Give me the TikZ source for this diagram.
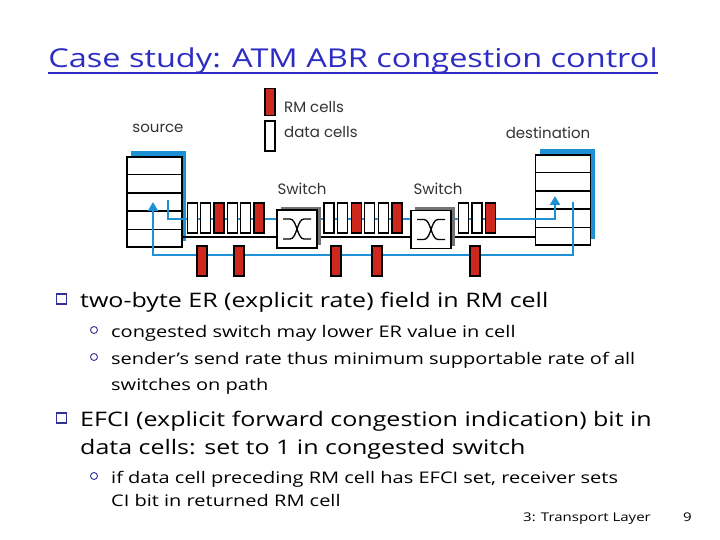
\documentclass[tikz,border=0pt]{standalone}
\usepackage{fontspec}
\setmainfont{Open Sans}[FakeStretch=1.25]
\newfontfamily\figfont{Poppins}
\usepackage{xcolor}
\usepackage{tikz}
\usetikzlibrary{
    arrows.meta,
    positioning,
    calc,
    shadows
}
\definecolor{abrblue}{RGB}{30,144,214}
\definecolor{abrred}{RGB}{205,40,30}
\definecolor{titleblue}{RGB}{45,45,195}
\definecolor{bulletblue}{RGB}{50,50,150}
\tikzset{
    cell/.style={
        draw,
        line width=1.3pt,
        minimum width=10pt,
        minimum height=30pt,
        inner sep=0pt
    }
}
\tikzset{
    rmcell/.style={
        cell,
        fill=abrred
    }
}
\tikzset{
    datacell/.style={
        cell,
        fill=white
    }
}
\tikzset{
    switchbox/.style={
        draw,
        line width=1.5pt,
        fill=white,
        minimum width=40pt,
        minimum height=38pt,
        inner sep=0pt,
        general shadow={fill=black!55, shadow xshift=4pt, shadow yshift=3pt}
    }
}
\tikzset{
    hoststack/.style={
        draw,
        line width=1.3pt,
        fill=white,
        minimum width=55pt,
        minimum height=90pt,
        inner sep=0pt,
        general shadow={fill=abrblue, shadow xshift=4pt, shadow yshift=6pt}
    }
}
\tikzset{
    flow/.style={
        draw=abrblue,
        line width=2.5pt,
        -{Triangle[width=10pt,length=9pt]}
    }
}
\tikzset{
    wire/.style={
        draw=black,
        line width=1.3pt
    }
}
\tikzset{
    figlabel/.style={
        font=\figfont\fontsize{15}{18}\selectfont,
        text=black!80,
        inner sep=0pt
    }
}
\tikzset{
    point/.style={
        anchor=base west,
        align=left,
        inner sep=0pt,
        font=\fontsize{20}{28}\selectfont
    }
}
\tikzset{
    subpoint/.style={
        anchor=base west,
        align=left,
        inner sep=0pt,
        font=\fontsize{16}{26}\selectfont
    }
}
\tikzset{
    sqbullet/.style={
        draw=bulletblue,
        line width=1.5pt,
        minimum size=10pt,
        inner sep=0pt
    }
}
\tikzset{
    rdbullet/.style={
        circle,
        draw=bulletblue,
        line width=0.9pt,
        minimum size=7pt,
        inner sep=0pt
    }
}

\begin{document}
\begin{tikzpicture}[
    x=1pt, y=-1pt,
    >=Latex
]
\useasboundingbox (0,0) rectangle (720,540);

% ------------------------------------------------------------
% Title
% ------------------------------------------------------------

\node[font=\fontsize{26}{31}\selectfont, text=titleblue, inner sep=0pt, anchor=base]
    (title) at (353,68) {Case study: ATM ABR congestion control};
\draw[titleblue, line width=1.3pt] ($(title.base west)+(0,5)$) -- ($(title.base east)+(0,5)$);

% ------------------------------------------------------------
% Hosts
% ------------------------------------------------------------

\node[hoststack] (src) at (154.5,202) {};
\node[hoststack] (dst) at (563,200) {};
\foreach \h in {src,dst} {
    \foreach \i in {1,...,4}
        \draw[line width=1.3pt] ($(\h.north west)!\i/5!(\h.south west)$) -- ($(\h.north east)!\i/5!(\h.south east)$);
}
\node[figlabel] (srclabel) at (158,128) {source};
\node[figlabel] (dstlabel) at (548,133) {destination};

% legend
\node[rmcell, minimum height=27pt] (legrm) at (270,102) {};
\node[datacell] (legdata) at (270,136) {};
\node[figlabel, anchor=west] (legrmtext) at (284,107) {RM cells};
\node[figlabel, anchor=west] (legdatatext) at (284,132) {data cells};

% ------------------------------------------------------------
% Forward path and return path
% ------------------------------------------------------------

\coordinate (srcout) at (168,200);
\coordinate (dstin) at (555,196);
\coordinate (dstout) at (573,202);
\coordinate (srcin) at (153,202);

\draw[wire] (src.east |- 0,237) -- (dst.west |- 0,237);
\draw[flow] (srcout) |- (dstin |- 0,219) -- (dstin);
\draw[flow] (dstout) |- (srcin |- 0,255) -- (srcin);

% ------------------------------------------------------------
% Switches
% ------------------------------------------------------------

\node[switchbox] (sw1) at (297,229) {};
\node[switchbox] (sw2) at (431,229.5) {};
\node[figlabel] (sw1label) at (302,189) {Switch};
\node[figlabel] (sw2label) at (438,189) {Switch};
\foreach \s in {sw1,sw2} {
    \begin{scope}[shift={(\s.center)}, line width=1.3pt]
        \draw (-14,-10) -- (-7,-10) .. controls (0,-10) and (0,10) .. (7,10) -- (14,10);
        \draw (-14,10) -- (-7,10) .. controls (0,10) and (0,-10) .. (7,-10) -- (14,-10);
    \end{scope}
}

% ------------------------------------------------------------
% Cells
% ------------------------------------------------------------

\foreach \x/\t [count=\i] in {192.5/datacell, 205.8/datacell, 219.1/rmcell, 232.4/datacell,
        245.7/datacell, 259/rmcell, 329/datacell, 342.6/datacell, 356.2/rmcell, 369.8/datacell,
        383.4/datacell, 397/rmcell, 463.5/datacell, 477/datacell, 490.5/rmcell}
    \node[\t] (fwd\i) at (\x,218) {};

\foreach \x [count=\i] in {202,239,336,377,475}
    \node[rmcell] (back\i) at (\x,261) {};

% ------------------------------------------------------------
% Text
% ------------------------------------------------------------

\node[sqbullet] (b1) at (61.5,299) {};
\node[point] (p1) at (80,307) {two-byte ER (explicit rate) field in RM cell};
\node[rdbullet] (s1) at (94,330) {};
\node[subpoint] (q1) at (111,337) {congested switch may lower ER value in cell};
\node[rdbullet] (s2) at (94,357) {};
\node[subpoint] (q2) at (111,390) {sender’s send rate thus minimum supportable rate of all\\switches on path};

\node[sqbullet] (b2) at (61.5,418) {};
\node[point] (p2) at (80,454) {EFCI (explicit forward congestion indication) bit in\\data cells: set to 1 in congested switch};
\node[rdbullet] (s3) at (94,476) {};
\node[subpoint, font=\fontsize{16}{23}\selectfont] (q3) at (111,506)
    {if data cell preceding RM cell has EFCI set, receiver sets\\CI bit in returned RM cell};

\node[font=\fontsize{12}{14}\selectfont, anchor=base west, inner sep=0pt] (foot) at (523,521) {3: Transport Layer};
\node[font=\fontsize{12}{14}\selectfont, anchor=base west, inner sep=0pt] (pagenum) at (683,521) {9};

\end{tikzpicture}
\end{document}
